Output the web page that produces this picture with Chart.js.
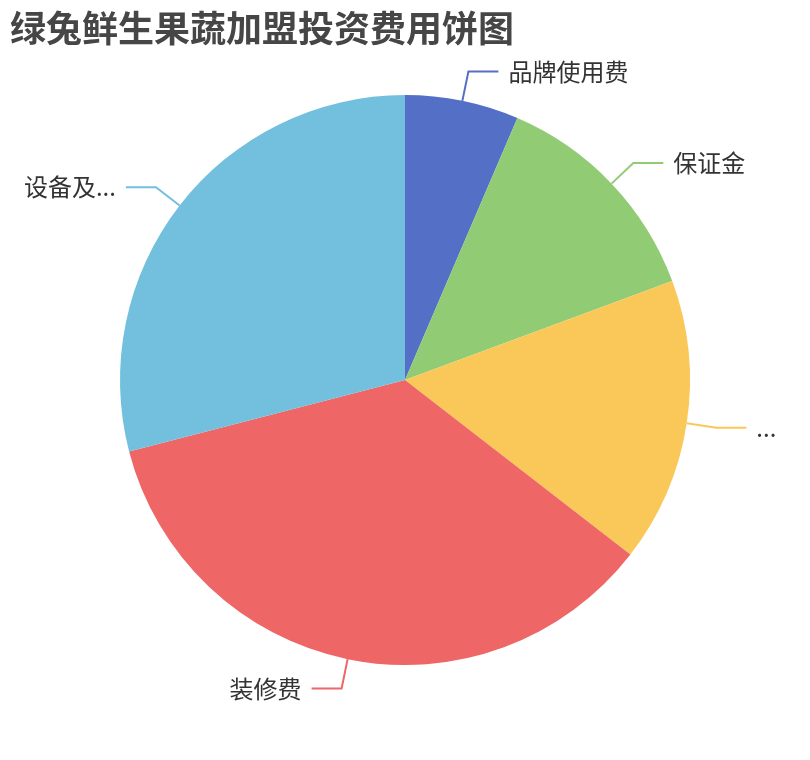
<!DOCTYPE html>
<html lang="zh">
<head>
    <meta charset="UTF-8">
    <title>绿兔鲜生果蔬加盟投资费用饼图</title>
    <script src="https://cdn.jsdelivr.net/npm/chart.js"></script>
    <style>
        body {
            margin: 0;
            background: #fff;
            font-family: "Noto Sans CJK SC", "Noto Sans", sans-serif;
        }
        .wrap {
            position: relative;
            width: 810px;
            height: 760px;
        }
        .title {
            position: absolute;
            left: 10px;
            top: 0px;
            font-size: 36px;
            font-weight: bold;
            color: #464646;
            font-family: "Noto Sans CJK SC", sans-serif;
        }
        canvas {
            position: absolute;
            left: 0;
            top: 0;
        }
    </style>
</head>
<body>
    <div class="wrap">
        <canvas id="pieChart" width="810" height="760"></canvas>
        <div class="title">绿兔鲜生果蔬加盟投资费用饼图</div>
    </div>

    <script>
        // slice names as shown (two of them are cut off in the original)
        const categories = ['品牌使用费', '保证金', '...', '装修费', '设备及...'];
        // amounts
        const values = [2, 4, 5, 11, 9];
        const colors = ['#5470c6', '#91cc75', '#fac858', '#ee6666', '#73c0de'];

        // leader lines + outside labels, echarts style
        const outsideLabels = {
            id: 'outsideLabels',
            afterDatasetsDraw(chart) {
                const ctx = chart.ctx;
                const meta = chart.getDatasetMeta(0);
                ctx.save();
                ctx.font = '24px "Noto Sans CJK SC", sans-serif';
                ctx.textBaseline = 'middle';
                meta.data.forEach((arc, i) => {
                    const mid = (arc.startAngle + arc.endAngle) / 2;
                    const r = arc.outerRadius;
                    const cos = Math.cos(mid), sin = Math.sin(mid);
                    const x0 = arc.x + cos * r, y0 = arc.y + sin * r;
                    const x1 = arc.x + cos * (r + 30), y1 = arc.y + sin * (r + 30);
                    const right = cos >= 0;
                    const x2 = x1 + (right ? 30 : -30);
                    ctx.strokeStyle = colors[i];
                    ctx.lineWidth = 2;
                    ctx.beginPath();
                    ctx.moveTo(x0, y0);
                    ctx.lineTo(x1, y1);
                    ctx.lineTo(x2, y1);
                    ctx.stroke();
                    ctx.fillStyle = '#333';
                    ctx.textAlign = right ? 'left' : 'right';
                    ctx.fillText(categories[i], x2 + (right ? 10 : -10), y1);
                });
                ctx.restore();
            }
        };

        new Chart(document.getElementById('pieChart'), {
            type: 'pie',
            data: {
                labels: categories,
                datasets: [{
                    data: values,
                    backgroundColor: colors,
                    borderWidth: 0,
                    hoverOffset: 0
                }]
            },
            options: {
                responsive: false,
                animation: false,
                layout: {
                    padding: { left: 120, right: 120, top: 95, bottom: 95 }
                },
                plugins: {
                    legend: { display: false },
                    tooltip: { enabled: false }
                }
            },
            plugins: [outsideLabels]
        });
    </script>
</body>
</html>
